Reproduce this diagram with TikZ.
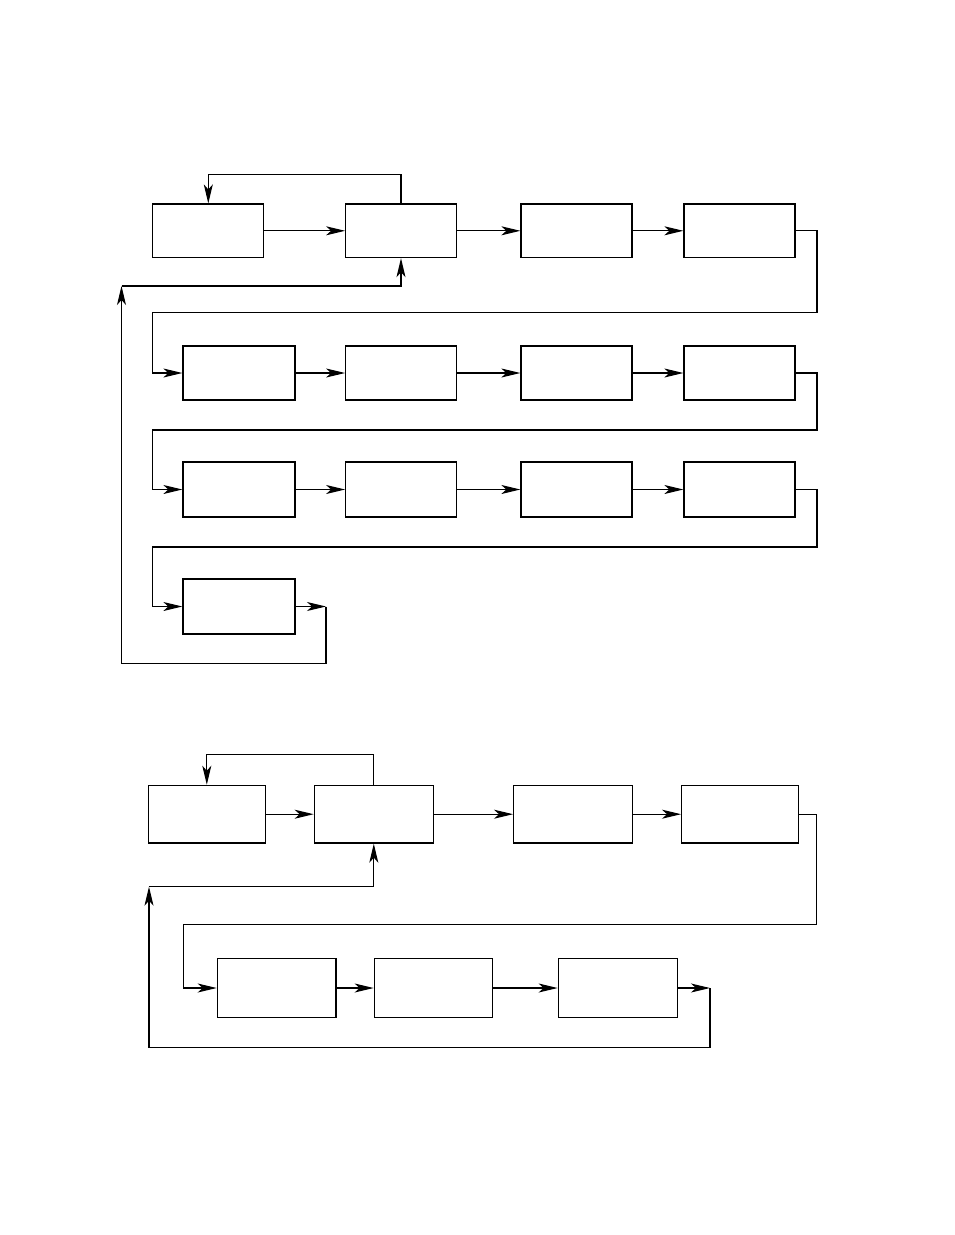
\documentclass[tikz,border=0pt]{standalone}
\usetikzlibrary{arrows.meta}
\begin{document}
\begin{tikzpicture}[x=1pt,y=-1pt,
  box/.style={draw, line width=1.3pt, inner sep=0pt, minimum height=54pt},
  ln/.style={line width=1.1pt},
  arr/.style={ln, -{Stealth[length=19pt,width=9pt,inset=5pt]}}]
\useasboundingbox (0,0) rectangle (954,1235);
% ---------- top diagram ----------
\node[box, minimum width=111pt, minimum height=53.5pt] (A) at (208.3,230.8) {};
\node[box, minimum width=110.5pt, minimum height=53.5pt] (B) at (401,230.8) {};
\node[box, minimum width=111pt, minimum height=53.5pt] (C) at (576.5,230.8) {};
\node[box, minimum width=111pt, minimum height=53.5pt] (D) at (739.5,230.8) {};
\node[box, minimum width=112pt] (E) at (239,373) {};
\node[box, minimum width=110.5pt] (F) at (401,373) {};
\node[box, minimum width=111pt] (G) at (576.5,373) {};
\node[box, minimum width=111pt] (H) at (739.5,373) {};
\node[box, minimum width=112pt, minimum height=55pt] (I) at (239,489.5) {};
\node[box, minimum width=110.5pt, minimum height=55pt] (J) at (401,489.5) {};
\node[box, minimum width=111pt, minimum height=55pt] (K) at (576.5,489.5) {};
\node[box, minimum width=111pt, minimum height=55pt] (L) at (739.5,489.5) {};
\node[box, minimum width=112pt, minimum height=55pt] (M) at (239,606.5) {};
\coordinate (fbA) at (208.3,174.5);
\coordinate (fbB) at (401,174.5);
\coordinate (r1a) at (817,230.8);
\coordinate (r1b) at (817,312.5);
\coordinate (r1c) at (152.5,312.5);
\coordinate (r1d) at (152.5,373);
\coordinate (r2a) at (817,373);
\coordinate (r2b) at (817,430);
\coordinate (r2c) at (152.5,430);
\coordinate (r2d) at (152.5,489.5);
\coordinate (r3a) at (817,489.5);
\coordinate (r3b) at (817,547);
\coordinate (r3c) at (152.5,547);
\coordinate (r3d) at (152.5,606.5);
\coordinate (o1) at (326,606.5);
\coordinate (o2) at (326,663.5);
\coordinate (o3) at (121.5,663.5);
\coordinate (o4) at (121.5,286);
\coordinate (o5) at (401,286);
\draw[arr] (B.north) -- (fbB) -- (fbA) -- (A.north);
\draw[arr] (A.east) -- (B.west);
\draw[arr] (B.east) -- (C.west);
\draw[arr] (C.east) -- (D.west);
\draw[arr] (D.east) -- (r1a) -- (r1b) -- (r1c) -- (r1d) -- (E.west);
\draw[arr] (E.east) -- (F.west);
\draw[arr] (F.east) -- (G.west);
\draw[arr] (G.east) -- (H.west);
\draw[arr] (H.east) -- (r2a) -- (r2b) -- (r2c) -- (r2d) -- (I.west);
\draw[arr] (I.east) -- (J.west);
\draw[arr] (J.east) -- (K.west);
\draw[arr] (K.east) -- (L.west);
\draw[arr] (L.east) -- (r3a) -- (r3b) -- (r3c) -- (r3d) -- (M.west);
\draw[arr] (M.east) -- (o1);
\draw[arr] (o1) -- (o2) -- (o3) -- (o4);
\draw[arr] (o4) -- (o5) -- (B.south);
% ---------- bottom diagram ----------
\node[box, minimum width=117pt, minimum height=57.7pt] (N) at (206.8,814.2) {};
\node[box, minimum width=119pt, minimum height=57.7pt] (O) at (373.8,814.2) {};
\node[box, minimum width=119pt, minimum height=57.7pt] (Pb) at (573.2,814.2) {};
\node[box, minimum width=116.6pt, minimum height=57.7pt] (S) at (740,814.2) {};
\node[box, minimum width=118.7pt, minimum height=58.6pt] (P) at (276.7,988) {};
\node[box, minimum width=118.4pt, minimum height=58.6pt] (Q) at (433.5,988) {};
\node[box, minimum width=119pt, minimum height=58.6pt] (R) at (617.8,988) {};
\coordinate (gA) at (206.8,754.3);
\coordinate (gB) at (373.8,754.3);
\coordinate (s1a) at (816.7,814.2);
\coordinate (s1b) at (816.7,924.3);
\coordinate (s1c) at (183.3,924.3);
\coordinate (s1d) at (183.3,988);
\coordinate (q1) at (710,988);
\coordinate (q2) at (710,1047.8);
\coordinate (q3) at (149,1047.8);
\coordinate (q4) at (149,886.7);
\coordinate (q5) at (373.8,886.7);
\draw[arr] (O.north) -- (gB) -- (gA) -- (N.north);
\draw[arr] (N.east) -- (O.west);
\draw[arr] (O.east) -- (Pb.west);
\draw[arr] (Pb.east) -- (S.west);
\draw[arr] (S.east) -- (s1a) -- (s1b) -- (s1c) -- (s1d) -- (P.west);
\draw[arr] (P.east) -- (Q.west);
\draw[arr] (Q.east) -- (R.west);
\draw[arr] (R.east) -- (q1);
\draw[arr] (q1) -- (q2) -- (q3) -- (q4);
\draw[arr] (q4) -- (q5) -- (O.south);
\end{tikzpicture}
\end{document}
